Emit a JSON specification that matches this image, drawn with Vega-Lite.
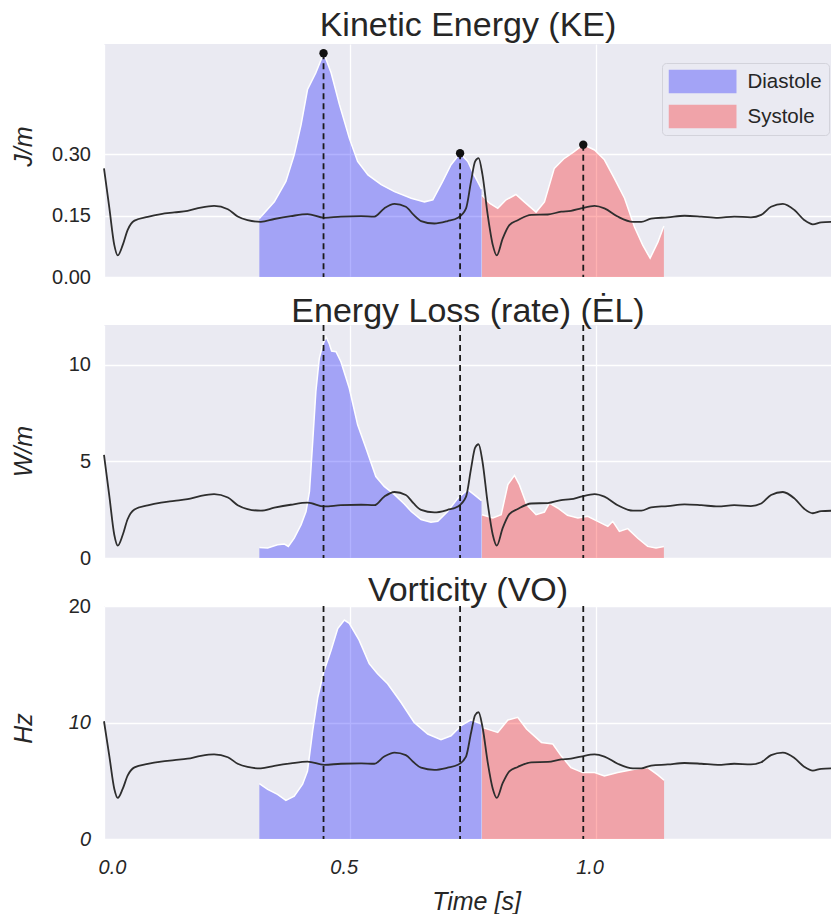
{
  "$schema": "https://vega.github.io/schema/vega-lite/v6.json",
  "background": "white",
  "padding": {"left": 11, "top": 9, "right": 0, "bottom": 0},
  "bounds": "flush",
  "spacing": 48,
  "config": {
    "font": "Liberation Sans",
    "view": {"fill": "#EAEAF2", "stroke": null},
    "axis": {
      "domain": false, "ticks": false, "tickSize": 0,
      "gridColor": "white", "gridWidth": 1.3,
      "labelFontSize": 20, "labelColor": "#262626", "labelPadding": 13.5,
      "titleColor": "#262626", "titleFontSize": 25, "titleFontStyle": "italic", "titleFontWeight": "normal"
    },
    "title": {"fontSize": 34, "fontWeight": "normal", "color": "#262626", "anchor": "middle", "frame": "group", "baseline": "alphabetic"}
  },
  "resolve": {"legend": {"color": "independent"}},
  "datasets": {
    "ke": [
      {"t": 0.316, "v": 0.143, "phase": "Diastole"},
      {"t": 0.3465, "v": 0.184, "phase": "Diastole"},
      {"t": 0.370, "v": 0.234, "phase": "Diastole"},
      {"t": 0.387, "v": 0.299, "phase": "Diastole"},
      {"t": 0.401, "v": 0.373, "phase": "Diastole"},
      {"t": 0.414, "v": 0.459, "phase": "Diastole"},
      {"t": 0.431, "v": 0.500, "phase": "Diastole"},
      {"t": 0.447, "v": 0.548, "phase": "Diastole"},
      {"t": 0.462, "v": 0.500, "phase": "Diastole"},
      {"t": 0.479, "v": 0.422, "phase": "Diastole"},
      {"t": 0.499, "v": 0.340, "phase": "Diastole"},
      {"t": 0.516, "v": 0.283, "phase": "Diastole"},
      {"t": 0.537, "v": 0.250, "phase": "Diastole"},
      {"t": 0.564, "v": 0.226, "phase": "Diastole"},
      {"t": 0.591, "v": 0.209, "phase": "Diastole"},
      {"t": 0.625, "v": 0.193, "phase": "Diastole"},
      {"t": 0.652, "v": 0.184, "phase": "Diastole"},
      {"t": 0.669, "v": 0.189, "phase": "Diastole"},
      {"t": 0.689, "v": 0.234, "phase": "Diastole"},
      {"t": 0.706, "v": 0.275, "phase": "Diastole"},
      {"t": 0.7244, "v": 0.303, "phase": "Diastole"},
      {"t": 0.740, "v": 0.283, "phase": "Diastole"},
      {"t": 0.753, "v": 0.250, "phase": "Diastole"},
      {"t": 0.768, "v": 0.215, "phase": "Diastole"},
      {"t": 0.769, "v": 0.200, "phase": "Systole"},
      {"t": 0.785, "v": 0.180, "phase": "Systole"},
      {"t": 0.801, "v": 0.168, "phase": "Systole"},
      {"t": 0.818, "v": 0.189, "phase": "Systole"},
      {"t": 0.838, "v": 0.202, "phase": "Systole"},
      {"t": 0.855, "v": 0.184, "phase": "Systole"},
      {"t": 0.879, "v": 0.159, "phase": "Systole"},
      {"t": 0.896, "v": 0.184, "phase": "Systole"},
      {"t": 0.916, "v": 0.266, "phase": "Systole"},
      {"t": 0.935, "v": 0.289, "phase": "Systole"},
      {"t": 0.955, "v": 0.306, "phase": "Systole"},
      {"t": 0.975, "v": 0.324, "phase": "Systole"},
      {"t": 0.998, "v": 0.311, "phase": "Systole"},
      {"t": 1.018, "v": 0.287, "phase": "Systole"},
      {"t": 1.038, "v": 0.242, "phase": "Systole"},
      {"t": 1.059, "v": 0.193, "phase": "Systole"},
      {"t": 1.079, "v": 0.123, "phase": "Systole"},
      {"t": 1.096, "v": 0.078, "phase": "Systole"},
      {"t": 1.111, "v": 0.046, "phase": "Systole"},
      {"t": 1.127, "v": 0.086, "phase": "Systole"},
      {"t": 1.139, "v": 0.125, "phase": "Systole"}
    ],
    "el": [
      {"t": 0.316, "v": 0.55, "phase": "Diastole"},
      {"t": 0.333, "v": 0.52, "phase": "Diastole"},
      {"t": 0.353, "v": 0.69, "phase": "Diastole"},
      {"t": 0.367, "v": 0.72, "phase": "Diastole"},
      {"t": 0.375, "v": 0.60, "phase": "Diastole"},
      {"t": 0.387, "v": 1.03, "phase": "Diastole"},
      {"t": 0.401, "v": 1.73, "phase": "Diastole"},
      {"t": 0.411, "v": 2.41, "phase": "Diastole"},
      {"t": 0.418, "v": 3.45, "phase": "Diastole"},
      {"t": 0.4246, "v": 6.03, "phase": "Diastole"},
      {"t": 0.431, "v": 8.62, "phase": "Diastole"},
      {"t": 0.438, "v": 10.34, "phase": "Diastole"},
      {"t": 0.445, "v": 11.03, "phase": "Diastole"},
      {"t": 0.4517, "v": 11.46, "phase": "Diastole"},
      {"t": 0.458, "v": 11.12, "phase": "Diastole"},
      {"t": 0.463, "v": 10.72, "phase": "Diastole"},
      {"t": 0.472, "v": 10.69, "phase": "Diastole"},
      {"t": 0.482, "v": 10.17, "phase": "Diastole"},
      {"t": 0.499, "v": 8.79, "phase": "Diastole"},
      {"t": 0.516, "v": 6.90, "phase": "Diastole"},
      {"t": 0.533, "v": 5.69, "phase": "Diastole"},
      {"t": 0.553, "v": 4.22, "phase": "Diastole"},
      {"t": 0.570, "v": 3.71, "phase": "Diastole"},
      {"t": 0.591, "v": 3.28, "phase": "Diastole"},
      {"t": 0.611, "v": 2.80, "phase": "Diastole"},
      {"t": 0.625, "v": 2.41, "phase": "Diastole"},
      {"t": 0.645, "v": 1.99, "phase": "Diastole"},
      {"t": 0.665, "v": 1.85, "phase": "Diastole"},
      {"t": 0.679, "v": 1.90, "phase": "Diastole"},
      {"t": 0.699, "v": 2.41, "phase": "Diastole"},
      {"t": 0.720, "v": 3.10, "phase": "Diastole"},
      {"t": 0.740, "v": 3.54, "phase": "Diastole"},
      {"t": 0.753, "v": 3.28, "phase": "Diastole"},
      {"t": 0.768, "v": 2.97, "phase": "Diastole"},
      {"t": 0.769, "v": 2.24, "phase": "Systole"},
      {"t": 0.791, "v": 2.07, "phase": "Systole"},
      {"t": 0.808, "v": 2.24, "phase": "Systole"},
      {"t": 0.8216, "v": 3.80, "phase": "Systole"},
      {"t": 0.835, "v": 4.28, "phase": "Systole"},
      {"t": 0.845, "v": 3.80, "phase": "Systole"},
      {"t": 0.860, "v": 2.76, "phase": "Systole"},
      {"t": 0.879, "v": 2.24, "phase": "Systole"},
      {"t": 0.896, "v": 2.38, "phase": "Systole"},
      {"t": 0.906, "v": 2.84, "phase": "Systole"},
      {"t": 0.923, "v": 2.59, "phase": "Systole"},
      {"t": 0.943, "v": 2.21, "phase": "Systole"},
      {"t": 0.964, "v": 2.07, "phase": "Systole"},
      {"t": 0.984, "v": 2.16, "phase": "Systole"},
      {"t": 1.0045, "v": 1.90, "phase": "Systole"},
      {"t": 1.025, "v": 1.64, "phase": "Systole"},
      {"t": 1.035, "v": 1.90, "phase": "Systole"},
      {"t": 1.0485, "v": 1.38, "phase": "Systole"},
      {"t": 1.0655, "v": 1.52, "phase": "Systole"},
      {"t": 1.086, "v": 1.02, "phase": "Systole"},
      {"t": 1.106, "v": 0.60, "phase": "Systole"},
      {"t": 1.123, "v": 0.52, "phase": "Systole"},
      {"t": 1.139, "v": 0.60, "phase": "Systole"}
    ],
    "vo": [
      {"t": 0.316, "v": 4.75, "phase": "Diastole"},
      {"t": 0.333, "v": 4.26, "phase": "Diastole"},
      {"t": 0.353, "v": 3.83, "phase": "Diastole"},
      {"t": 0.370, "v": 3.31, "phase": "Diastole"},
      {"t": 0.387, "v": 3.68, "phase": "Diastole"},
      {"t": 0.404, "v": 4.70, "phase": "Diastole"},
      {"t": 0.414, "v": 5.84, "phase": "Diastole"},
      {"t": 0.4246, "v": 9.30, "phase": "Diastole"},
      {"t": 0.435, "v": 12.17, "phase": "Diastole"},
      {"t": 0.447, "v": 14.33, "phase": "Diastole"},
      {"t": 0.462, "v": 16.20, "phase": "Diastole"},
      {"t": 0.4755, "v": 18.07, "phase": "Diastole"},
      {"t": 0.489, "v": 18.79, "phase": "Diastole"},
      {"t": 0.499, "v": 18.51, "phase": "Diastole"},
      {"t": 0.519, "v": 17.07, "phase": "Diastole"},
      {"t": 0.5395, "v": 15.05, "phase": "Diastole"},
      {"t": 0.5565, "v": 14.19, "phase": "Diastole"},
      {"t": 0.577, "v": 13.33, "phase": "Diastole"},
      {"t": 0.604, "v": 11.74, "phase": "Diastole"},
      {"t": 0.631, "v": 10.0, "phase": "Diastole"},
      {"t": 0.6586, "v": 9.01, "phase": "Diastole"},
      {"t": 0.6856, "v": 8.52, "phase": "Diastole"},
      {"t": 0.706, "v": 8.86, "phase": "Diastole"},
      {"t": 0.7264, "v": 9.73, "phase": "Diastole"},
      {"t": 0.7467, "v": 10.22, "phase": "Diastole"},
      {"t": 0.768, "v": 9.87, "phase": "Diastole"},
      {"t": 0.769, "v": 9.58, "phase": "Systole"},
      {"t": 0.801, "v": 9.15, "phase": "Systole"},
      {"t": 0.8216, "v": 10.22, "phase": "Systole"},
      {"t": 0.8417, "v": 10.44, "phase": "Systole"},
      {"t": 0.8596, "v": 9.44, "phase": "Systole"},
      {"t": 0.890, "v": 8.29, "phase": "Systole"},
      {"t": 0.913, "v": 8.15, "phase": "Systole"},
      {"t": 0.930, "v": 7.14, "phase": "Systole"},
      {"t": 0.950, "v": 6.13, "phase": "Systole"},
      {"t": 0.974, "v": 5.70, "phase": "Systole"},
      {"t": 0.998, "v": 5.70, "phase": "Systole"},
      {"t": 1.018, "v": 5.41, "phase": "Systole"},
      {"t": 1.045, "v": 5.70, "phase": "Systole"},
      {"t": 1.079, "v": 5.99, "phase": "Systole"},
      {"t": 1.106, "v": 6.13, "phase": "Systole"},
      {"t": 1.1265, "v": 5.50, "phase": "Systole"},
      {"t": 1.1394, "v": 5.04, "phase": "Systole"}
    ],
    "ecg": [
      {"t": 0, "e": 0.266}, {"t": 0.011, "e": 0.168}, {"t": 0.021, "e": 0.078}, {"t": 0.028, "e": 0.053},
      {"t": 0.038, "e": 0.078}, {"t": 0.048, "e": 0.115}, {"t": 0.062, "e": 0.138}, {"t": 0.089, "e": 0.1475},
      {"t": 0.116, "e": 0.154}, {"t": 0.143, "e": 0.158}, {"t": 0.170, "e": 0.162}, {"t": 0.197, "e": 0.170},
      {"t": 0.224, "e": 0.174}, {"t": 0.252, "e": 0.166}, {"t": 0.272, "e": 0.148}, {"t": 0.292, "e": 0.139},
      {"t": 0.319, "e": 0.135}, {"t": 0.3465, "e": 0.142}, {"t": 0.380, "e": 0.149}, {"t": 0.414, "e": 0.154},
      {"t": 0.448, "e": 0.145}, {"t": 0.482, "e": 0.148}, {"t": 0.523, "e": 0.149}, {"t": 0.550, "e": 0.148},
      {"t": 0.570, "e": 0.168}, {"t": 0.591, "e": 0.179}, {"t": 0.614, "e": 0.172}, {"t": 0.630, "e": 0.152},
      {"t": 0.645, "e": 0.137}, {"t": 0.672, "e": 0.131}, {"t": 0.699, "e": 0.137}, {"t": 0.720, "e": 0.145},
      {"t": 0.7365, "e": 0.168}, {"t": 0.7467, "e": 0.234}, {"t": 0.755, "e": 0.283}, {"t": 0.762, "e": 0.291},
      {"t": 0.770, "e": 0.250}, {"t": 0.7806, "e": 0.152}, {"t": 0.791, "e": 0.078}, {"t": 0.799, "e": 0.053},
      {"t": 0.811, "e": 0.094}, {"t": 0.8246, "e": 0.127}, {"t": 0.8417, "e": 0.139}, {"t": 0.869, "e": 0.152},
      {"t": 0.903, "e": 0.153}, {"t": 0.930, "e": 0.160}, {"t": 0.950, "e": 0.162}, {"t": 0.9705, "e": 0.168},
      {"t": 0.998, "e": 0.174}, {"t": 1.018, "e": 0.168}, {"t": 1.045, "e": 0.148}, {"t": 1.076, "e": 0.135},
      {"t": 1.093, "e": 0.135}, {"t": 1.113, "e": 0.143}, {"t": 1.147, "e": 0.146}, {"t": 1.181, "e": 0.150},
      {"t": 1.215, "e": 0.148}, {"t": 1.249, "e": 0.145}, {"t": 1.282, "e": 0.148}, {"t": 1.316, "e": 0.146},
      {"t": 1.337, "e": 0.152}, {"t": 1.357, "e": 0.172}, {"t": 1.381, "e": 0.179}, {"t": 1.4045, "e": 0.164},
      {"t": 1.425, "e": 0.139}, {"t": 1.442, "e": 0.129}, {"t": 1.459, "e": 0.134}, {"t": 1.481, "e": 0.135}
    ],
    "events": [
      {"t": 0.4466, "ke": 0.548},
      {"t": 0.7244, "ke": 0.303},
      {"t": 0.975, "ke": 0.324}
    ]
  },
  "vconcat": [
    {
      "width": 728, "height": 233,
      "title": {"text": "Kinetic Energy (KE)", "offset": 1},
      "resolve": {"scale": {"y": "independent"}},
      "layer": [
        {
          "data": {"name": "ke"},
          "mark": {"type": "area", "fillOpacity": 0.3},
          "encoding": {
            "x": {"field": "t", "type": "quantitative", "scale": {"domain": [0, 1.481], "nice": false, "zero": false},
                  "axis": {"values": [0, 0.5, 1.0], "labels": false, "title": null, "grid": true}},
            "y": {"field": "v", "type": "quantitative", "stack": null, "scale": {"domain": [0, 0.5705], "nice": false},
                  "axis": {"values": [0, 0.15, 0.3], "format": ".2f", "title": "J/m", "titleX": -81, "titleY": 102, "titleAngle": 270, "titleAlign": "center", "titleBaseline": "middle"}},
            "color": {"field": "phase", "type": "nominal", "scale": {"domain": ["Diastole", "Systole"], "range": ["blue", "red"]},
                      "legend": {"orient": "none", "legendX": 558, "legendY": 19, "title": null,
                                 "symbolType": "M-1,-0.353H1V0.353H-1Z", "symbolSize": 4624, "clipHeight": 24,
                                 "symbolOpacity": 0.3, "symbolStrokeWidth": 0, "labelFontSize": 20.5, "labelOffset": 11,
                                 "rowPadding": 11, "padding": 6.5, "fillColor": "#EAEAF2", "strokeColor": "#d3d3db",
                                 "cornerRadius": 4, "labelColor": "#262626"}}
          }
        },
        {
          "data": {"name": "ke"},
          "mark": {"type": "line", "color": "white", "strokeWidth": 1.5},
          "encoding": {
            "x": {"field": "t", "type": "quantitative", "scale": {"domain": [0, 1.481], "nice": false, "zero": false}},
            "y": {"field": "v", "type": "quantitative", "scale": {"domain": [0, 0.5705], "nice": false}, "axis": null},
            "detail": {"field": "phase"}
          }
        },
        {
          "data": {"name": "ecg"},
          "mark": {"type": "line", "color": "#2e2e2e", "strokeWidth": 1.8, "interpolate": "monotone"},
          "encoding": {
            "x": {"field": "t", "type": "quantitative", "scale": {"domain": [0, 1.481], "nice": false, "zero": false}},
            "y": {"field": "e", "type": "quantitative", "scale": {"domain": [0, 0.5705], "nice": false, "zero": false}, "axis": null}
          }
        },
        {
          "data": {"name": "events"},
          "mark": {"type": "rule", "color": "#1a1a1a", "strokeWidth": 1.8, "strokeDash": [6, 4]},
          "encoding": {
            "x": {"field": "t", "type": "quantitative", "scale": {"domain": [0, 1.481], "nice": false, "zero": false}},
            "y": {"field": "ke", "type": "quantitative", "scale": {"domain": [0, 0.5705], "nice": false}, "axis": null},
            "y2": {"datum": 0}
          }
        },
        {
          "data": {"name": "events"},
          "mark": {"type": "point", "filled": true, "color": "#111111", "size": 70, "opacity": 1},
          "encoding": {
            "x": {"field": "t", "type": "quantitative", "scale": {"domain": [0, 1.481], "nice": false, "zero": false}},
            "y": {"field": "ke", "type": "quantitative", "scale": {"domain": [0, 0.5705], "nice": false}, "axis": null}
          }
        }
      ]
    },
    {
      "width": 728, "height": 233,
      "title": {"text": "Energy Loss (rate) (ĖL)", "offset": -5},
      "resolve": {"scale": {"y": "independent"}},
      "layer": [
        {
          "data": {"name": "el"},
          "mark": {"type": "area", "fillOpacity": 0.3},
          "encoding": {
            "x": {"field": "t", "type": "quantitative", "scale": {"domain": [0, 1.481], "nice": false, "zero": false},
                  "axis": {"values": [0, 0.5, 1.0], "labels": false, "title": null, "grid": true}},
            "y": {"field": "v", "type": "quantitative", "stack": null, "scale": {"domain": [0, 12.07], "nice": false},
                  "axis": {"values": [0, 5, 10], "format": "d", "title": "W/m", "titleX": -81, "titleY": 126, "titleAngle": 270, "titleAlign": "center", "titleBaseline": "middle"}},
            "color": {"field": "phase", "type": "nominal", "scale": {"domain": ["Diastole", "Systole"], "range": ["blue", "red"]}, "legend": null}
          }
        },
        {
          "data": {"name": "el"},
          "mark": {"type": "line", "color": "white", "strokeWidth": 1.5},
          "encoding": {
            "x": {"field": "t", "type": "quantitative", "scale": {"domain": [0, 1.481], "nice": false, "zero": false}},
            "y": {"field": "v", "type": "quantitative", "scale": {"domain": [0, 12.07], "nice": false}, "axis": null},
            "detail": {"field": "phase"}
          }
        },
        {
          "data": {"name": "ecg"},
          "mark": {"type": "line", "color": "#2e2e2e", "strokeWidth": 1.8, "interpolate": "monotone"},
          "encoding": {
            "x": {"field": "t", "type": "quantitative", "scale": {"domain": [0, 1.481], "nice": false, "zero": false}},
            "y": {"field": "e", "type": "quantitative", "scale": {"domain": [0.024, 0.571], "nice": false, "zero": false}, "axis": null}
          }
        },
        {
          "data": {"name": "events"},
          "mark": {"type": "rule", "color": "#1a1a1a", "strokeWidth": 1.8, "strokeDash": [6, 4]},
          "encoding": {
            "x": {"field": "t", "type": "quantitative", "scale": {"domain": [0, 1.481], "nice": false, "zero": false}}
          }
        }
      ]
    },
    {
      "width": 728, "height": 233,
      "title": {"text": "Vorticity (VO)", "offset": -12},
      "resolve": {"scale": {"y": "independent"}},
      "layer": [
        {
          "data": {"name": "vo"},
          "mark": {"type": "area", "fillOpacity": 0.3},
          "encoding": {
            "x": {"field": "t", "type": "quantitative", "scale": {"domain": [0, 1.481], "nice": false, "zero": false},
                  "axis": {"values": [0, 0.5, 1.0], "format": ".1f", "title": "Time [s]", "grid": true,
                           "labelFontStyle": "italic", "labelBaseline": "alphabetic", "labelPadding": 34,
                           "labelOffset": {"condition": {"test": "datum.value == 0", "value": 8}, "value": -6},
                           "labelFlush": false,
                           "titleX": 372, "titleY": 70, "titleBaseline": "alphabetic", "titleAlign": "center"}},
            "y": {"field": "v", "type": "quantitative", "stack": null, "scale": {"domain": [0, 20], "nice": false},
                  "axis": {"values": [0, 10, 20], "format": "d", "title": "Hz", "titleX": -81, "titleY": 122, "titleAngle": 270, "titleAlign": "center", "titleBaseline": "middle",
                           "labelFontStyle": {"condition": {"test": "datum.value < 15", "value": "italic"}, "value": "normal"}}},
            "color": {"field": "phase", "type": "nominal", "scale": {"domain": ["Diastole", "Systole"], "range": ["blue", "red"]}, "legend": null}
          }
        },
        {
          "data": {"name": "vo"},
          "mark": {"type": "line", "color": "white", "strokeWidth": 1.5},
          "encoding": {
            "x": {"field": "t", "type": "quantitative", "scale": {"domain": [0, 1.481], "nice": false, "zero": false}},
            "y": {"field": "v", "type": "quantitative", "scale": {"domain": [0, 20], "nice": false}, "axis": null},
            "detail": {"field": "phase"}
          }
        },
        {
          "data": {"name": "ecg"},
          "mark": {"type": "line", "color": "#2e2e2e", "strokeWidth": 1.8, "interpolate": "monotone"},
          "encoding": {
            "x": {"field": "t", "type": "quantitative", "scale": {"domain": [0, 1.481], "nice": false, "zero": false}},
            "y": {"field": "e", "type": "quantitative", "scale": {"domain": [-0.061, 0.586], "nice": false, "zero": false}, "axis": null}
          }
        },
        {
          "data": {"name": "events"},
          "mark": {"type": "rule", "color": "#1a1a1a", "strokeWidth": 1.8, "strokeDash": [6, 4]},
          "encoding": {
            "x": {"field": "t", "type": "quantitative", "scale": {"domain": [0, 1.481], "nice": false, "zero": false}}
          }
        }
      ]
    }
  ]
}
